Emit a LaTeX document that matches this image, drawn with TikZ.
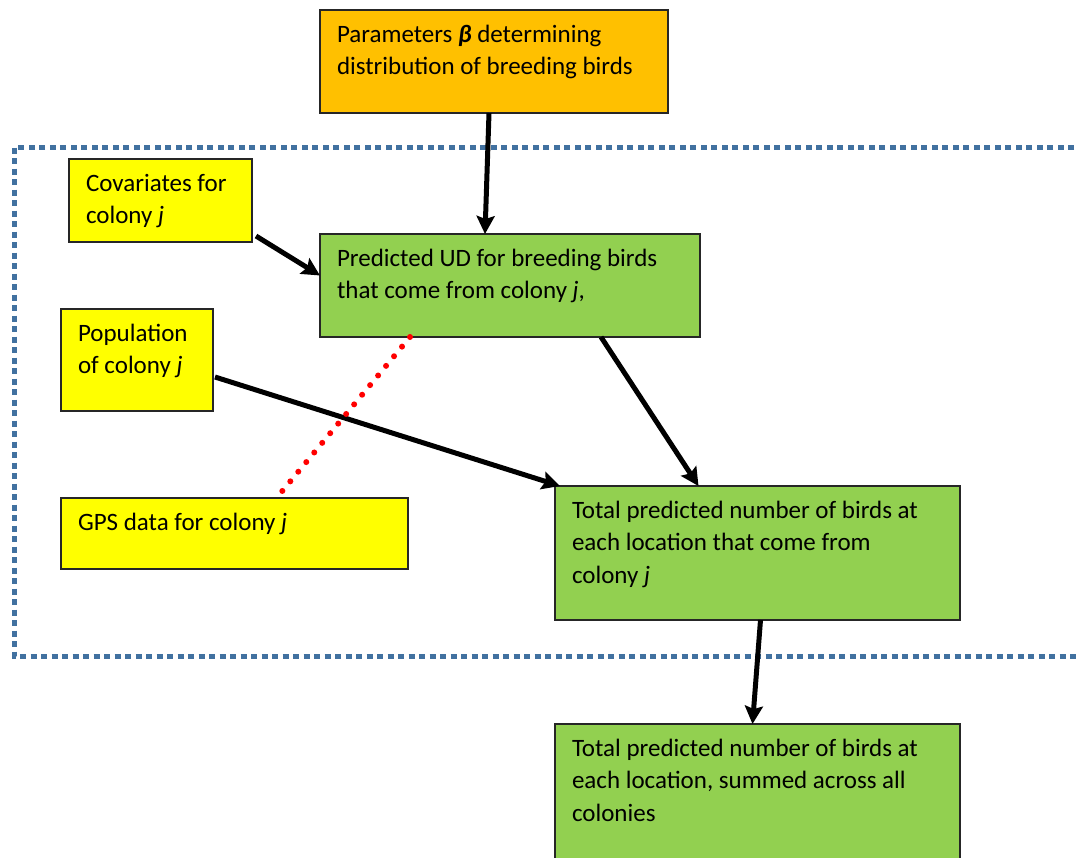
\documentclass[tikz,border=0pt]{standalone}
\usepackage{fontspec}
\setmainfont{Carlito}
\usetikzlibrary{arrows.meta}
\definecolor{orangebox}{RGB}{255,192,0}
\definecolor{yellowbox}{RGB}{255,255,0}
\definecolor{greenbox}{RGB}{146,208,80}
\definecolor{framecol}{RGB}{65,113,160}
\definecolor{reddot}{RGB}{255,0,0}
\newcommand\bt[3]{\parbox[c][#2][t]{#1}{\raggedright\rule{0pt}{32pt}#3}}
\tikzset{
  box/.style={draw=black!85, line width=1.5pt, anchor=north west, inner xsep=17pt, inner ysep=0pt, outer sep=0pt,
    font=\fontsize{25pt}{32.5pt}\selectfont},
  arr/.style={line width=5pt, -{Stealth[length=18pt,width=18pt,inset=3pt]}},
  frame/.style={draw=framecol, line width=5pt, dash pattern=on 6pt off 4.5pt},
  reddots/.style={draw=reddot, line width=6pt, line cap=round, dash pattern=on 0pt off 12.5pt}
}
\begin{document}
\begin{tikzpicture}[x=1pt,y=-1pt]
\clip (0,0) rectangle (1079,857);
\fill[white] (0,0) rectangle (1079,857);
% dotted frame
\draw[frame] (1095,147) -- (14,147) -- (14,656) -- (1095,656);
% boxes
\node[box, fill=orangebox] (par) at (320,10) {\bt{314pt}{103pt}{Parameters \textbf{\textit{β}} determining\\distribution of breeding birds}};
\node[box, fill=yellowbox] (cov) at (69,159) {\bt{149pt}{83pt}{Covariates for\\colony \textit{j}}};
\node[box, fill=greenbox] (ud) at (320,234) {\bt{346pt}{103pt}{Predicted UD for breeding birds\\that come from colony \textit{j},}};
\node[box, fill=yellowbox] (pop) at (61,309) {\bt{118pt}{102pt}{Population\\of colony \textit{j}}};
\node[box, fill=yellowbox] (gps) at (61,498) {\bt{313pt}{71pt}{GPS data for colony \textit{j}}};
\node[box, fill=greenbox] (tot) at (555,486) {\bt{371pt}{134pt}{Total predicted number of birds at\\each location that come from\\colony \textit{j}}};
\node[box, fill=greenbox] (all) at (555,724) {\bt{371pt}{160pt}{Total predicted number of birds at\\each location, summed across all\\colonies}};
% connectors
\draw[arr] ([xshift=-5pt]par.south) -- ([xshift=-25pt]ud.north);
\draw[arr] ([shift={(4pt,6pt)}]cov.south east) -- ([yshift=10pt]ud.west);
\draw[arr] ([xshift=91pt]ud.south) -- ([xshift=-59pt]tot.north);
\draw[arr] ([shift={(2pt,-17pt)}]pop.east) -- ([xshift=5pt]tot.north west);
\draw[reddots] ([xshift=-100pt]ud.south) -- ([xshift=42pt]gps.north);
\draw[arr] ([xshift=3pt]tot.south) -- ([xshift=-5pt]all.north);
\end{tikzpicture}
\end{document}
